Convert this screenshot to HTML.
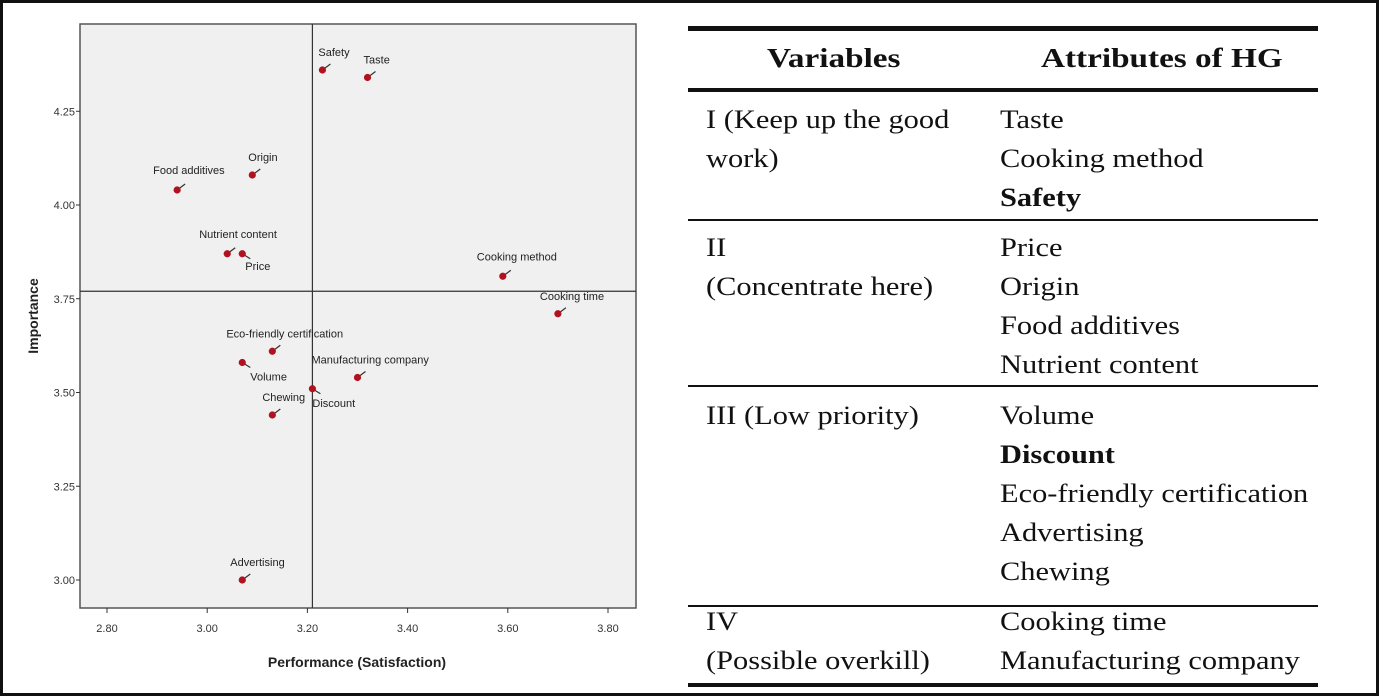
<!DOCTYPE html>
<html><head><meta charset="utf-8"><style>
body{margin:0;width:1379px;height:696px;background:#fff;overflow:hidden;position:relative;font-family:"Liberation Sans",sans-serif}
#frame{position:absolute;left:0;top:0;width:1373px;height:690px;border:3px solid #111}
#tbl{position:absolute;left:0;top:0;width:1379px;height:696px;font-family:"Liberation Serif",serif;font-size:26px;color:#111}
.t{position:absolute;white-space:nowrap;transform:scaleX(1.17);transform-origin:0 0}
.hd{transform:scaleX(1.23)}
.ln{position:absolute;left:688px;width:630px;background:#111}
</style></head><body>
<div id="frame"></div>
<svg id="chart" width="660" height="696" style="position:absolute;left:0;top:0" xmlns="http://www.w3.org/2000/svg"></svg>
<div id="tbl">
<div class="ln" style="top:26px;height:5px"></div>
<div class="t hd" style="left:767px;top:43px;font-weight:bold;font-size:27px">Variables</div>
<div class="t hd" style="left:1041px;top:43px;font-weight:bold;font-size:27px">Attributes of HG</div>
<div class="ln" style="top:88px;height:4px"></div>
<div class="t" style="left:706px;top:100px;line-height:39px">I (Keep up the good<br>work)</div>
<div class="t" style="left:1000px;top:100px;line-height:39px">Taste<br>Cooking method<br><b>Safety</b></div>
<div class="ln" style="top:219px;height:2px"></div>
<div class="t" style="left:706px;top:228px;line-height:39px">II<br>(Concentrate here)</div>
<div class="t" style="left:1000px;top:228px;line-height:39px">Price<br>Origin<br>Food additives<br>Nutrient content</div>
<div class="ln" style="top:385px;height:2px"></div>
<div class="t" style="left:706px;top:396px;line-height:39px">III (Low priority)</div>
<div class="t" style="left:1000px;top:396px;line-height:39px">Volume<br><b>Discount</b><br>Eco-friendly certification<br>Advertising<br>Chewing</div>
<div class="ln" style="top:605px;height:2px"></div>
<div class="t" style="left:706px;top:602px;line-height:39px">IV<br>(Possible overkill)</div>
<div class="t" style="left:1000px;top:602px;line-height:39px">Cooking time<br>Manufacturing company</div>
<div class="ln" style="top:683px;height:4px"></div>
</div>
<script>
const names=["Safety","Taste","Origin","Food additives","Nutrient content","Price","Cooking method","Cooking time","Eco-friendly certification","Volume","Manufacturing company","Discount","Chewing","Advertising"];
const perf=[3.23,3.32,3.09,2.94,3.04,3.07,3.59,3.70,3.13,3.07,3.30,3.21,3.13,3.07];
const imp=[4.36,4.34,4.08,4.04,3.87,3.87,3.81,3.71,3.61,3.58,3.54,3.51,3.44,3.00];
const xTicks=[2.8,3.0,3.2,3.4,3.6,3.8];
const xTickLabels=["2.80","3.00","3.20","3.40","3.60","3.80"];
const yTicks=[3.0,3.25,3.5,3.75,4.0,4.25];
const yTickLabels=["3.00","3.25","3.50","3.75","4.00","4.25"];
const meanPerf=3.21, meanImp=3.77;
const lab=[[-4,-14],[-4,-14],[-4,-14],[-24,-16],[-28,-16],[3,16],[-26,-16],[-18,-14],[-46,-14],[8,18],[-46,-14],[0,18],[-10,-14],[-12,-14]];
const X=v=>107+(v-2.8)*501;
const Y=v=>580-(v-3.0)*375;
const svg=document.getElementById('chart');
const NS="http://www.w3.org/2000/svg";
function mk(t,a,txt){const e=document.createElementNS(NS,t);for(const k in a)e.setAttribute(k,a[k]);if(txt!=null)e.textContent=txt;svg.appendChild(e);return e;}
let r=mk('rect',{x:80,y:24,width:556,height:584,fill:'#f0f0f0',stroke:'#555','stroke-width':1.5});


xTicks.forEach((v,i)=>{
 let l=mk('line',{x1:X(v),x2:X(v),y1:608,y2:613,stroke:'#333'});
 
 
 let t=mk('text',{x:X(v),y:632,'text-anchor':'middle','font-size':11,fill:'#333'},xTickLabels[i]);
 
 
});
yTicks.forEach((v,i)=>{
 let l=mk('line',{x1:76,x2:80,y1:Y(v),y2:Y(v),stroke:'#333'});
 
 
 let t=mk('text',{x:75,y:Y(v)+4,'text-anchor':'end','font-size':11,fill:'#333'},yTickLabels[i]);
 
 
});
let h=mk('line',{x1:80,x2:636,y1:Y(meanImp),y2:Y(meanImp),stroke:'#333','stroke-width':1.2});


let v=mk('line',{x1:X(meanPerf),x2:X(meanPerf),y1:24,y2:608,stroke:'#333','stroke-width':1.2});


names.forEach((n,i)=>{
 const px=X(perf[i]),py=Y(imp[i]);
 const [dx,dy]=lab[i];
 let ld=mk('line',{x1:px,y1:py,x2:px+8,y2:py+(dy<0?-6:5),stroke:'#333','stroke-width':1.2});
 
 
 let c=mk('circle',{cx:px,cy:py,r:3.6,fill:'#b0121f'});
 
 
 let t=mk('text',{x:px+dx,y:py+dy,'font-size':11,fill:'#222','text-anchor':'start'},n);
 
 
});
let xt=mk('text',{x:357,y:667,'text-anchor':'middle','font-size':14,'font-weight':'bold',fill:'#222'},'Performance (Satisfaction)');


let yt=mk('text',{x:0,y:0,'text-anchor':'middle','font-size':14,'font-weight':'bold',fill:'#222',transform:'translate(38,316) rotate(-90)'},'Importance');


</script>
</body></html>
